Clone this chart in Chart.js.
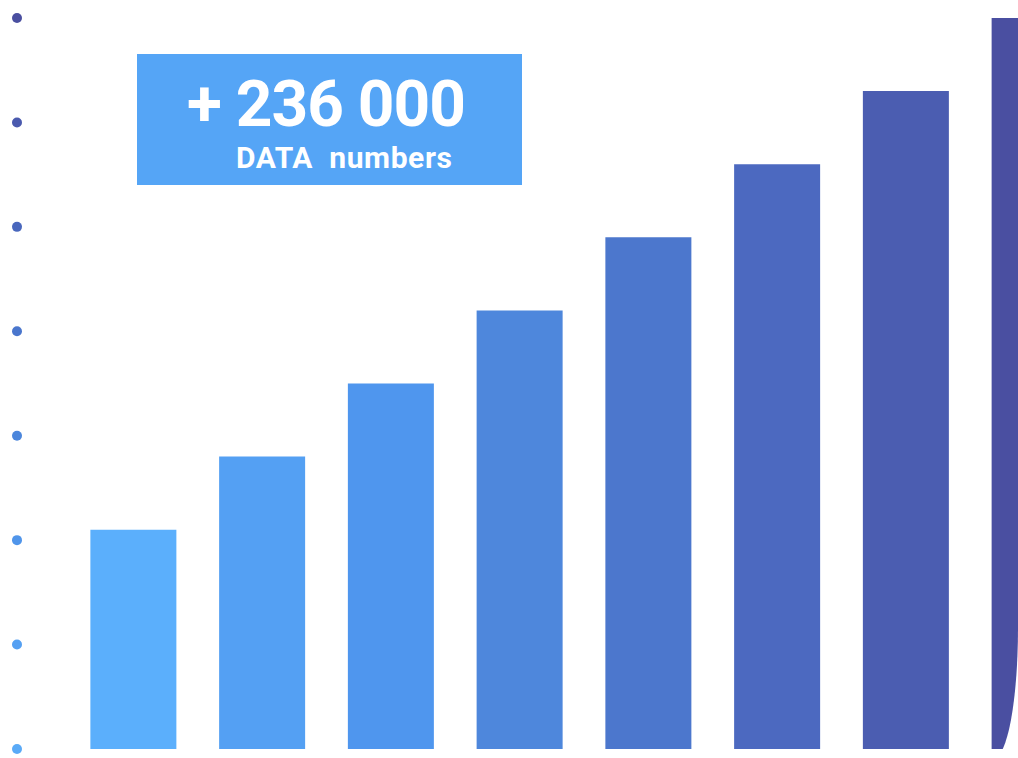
<!DOCTYPE html>
<html>
<head>
<meta charset="utf-8">
<script src="https://cdn.jsdelivr.net/npm/chart.js@4/dist/chart.umd.min.js"></script>
<style>
  html, body { margin: 0; padding: 0; background: #fff; overflow: hidden; }
  #wrap {
    position: relative;
    width: 1018px;
    height: 758px;
    overflow: hidden;
    background: #fff;
    border-bottom-right-radius: 24px 130px;
  }
  #badge {
    position: absolute;
    left: 137px;
    top: 54px;
    width: 385px;
    height: 131px;
    background: #55a5f6;
    color: #fff;
    font-family: Roboto, sans-serif;
    font-weight: bold;
  }
  #badge .big { position: absolute; left: 50px; top: 51px; font-size: 64px; line-height: 0; letter-spacing: -1px; white-space: pre; }
  #badge .small { position: absolute; left: 99px; top: 104px; font-size: 30px; line-height: 0; letter-spacing: 0.6px; white-space: pre; }
</style>
</head>
<body>
<div id="wrap">
  <canvas id="chart" width="1100" height="758"></canvas>
  <div id="badge"><span class="big">+ 236 000</span><span class="small">DATA  numbers</span></div>
</div>
<script>
// données
const categories = ['1', '2', '3', '4', '5', '6', '7', '8']
const values = [3, 4, 5, 6, 7, 8, 9, 10]
const barColors = ['#5baffc', '#54a0f3', '#4f96ee', '#4e87dc', '#4c77cd', '#4c69c0', '#4b5db1', '#4a4fa1']

// points à gauche (échelle y2)
const dotTicks = [0, 1, 2, 3, 4, 5, 6, 7]
const dotColors = ['#5aaaf7', '#55a0f2', '#5095ea', '#4b86dc', '#4a76cd', '#4967bd', '#4a5aae', '#4a4fa0']

// plugin : dessine les points sur les graduations de y2
const dotsPlugin = {
  id: 'dots',
  afterDatasetsDraw(chart) {
    const ctx = chart.ctx
    const s = chart.scales.y2
    ctx.save()
    dotTicks.forEach((t, i) => {
      ctx.beginPath()
      ctx.fillStyle = dotColors[i]
      ctx.arc(17, s.getPixelForValue(t), 5, 0, Math.PI * 2)
      ctx.fill()
    })
    ctx.restore()
  }
}

new Chart(document.getElementById('chart').getContext('2d'), {
  type: 'bar',
  data: {
    labels: categories,
    datasets: [{
      data: values,
      backgroundColor: barColors,
      borderWidth: 0,
      barPercentage: 0.668,
      categoryPercentage: 1,
    }]
  },
  options: {
    animation: false,
    responsive: false,
    layout: { padding: { left: 69, right: 1, top: 18, bottom: 9 } },
    plugins: { legend: { display: false }, tooltip: { enabled: false } },
    scales: {
      x: { display: false },
      y: { display: false, min: 0, max: 10 },
      y2: { display: false, min: 0, max: 7 },
    },
  },
  plugins: [dotsPlugin],
})
</script>
</body>
</html>
